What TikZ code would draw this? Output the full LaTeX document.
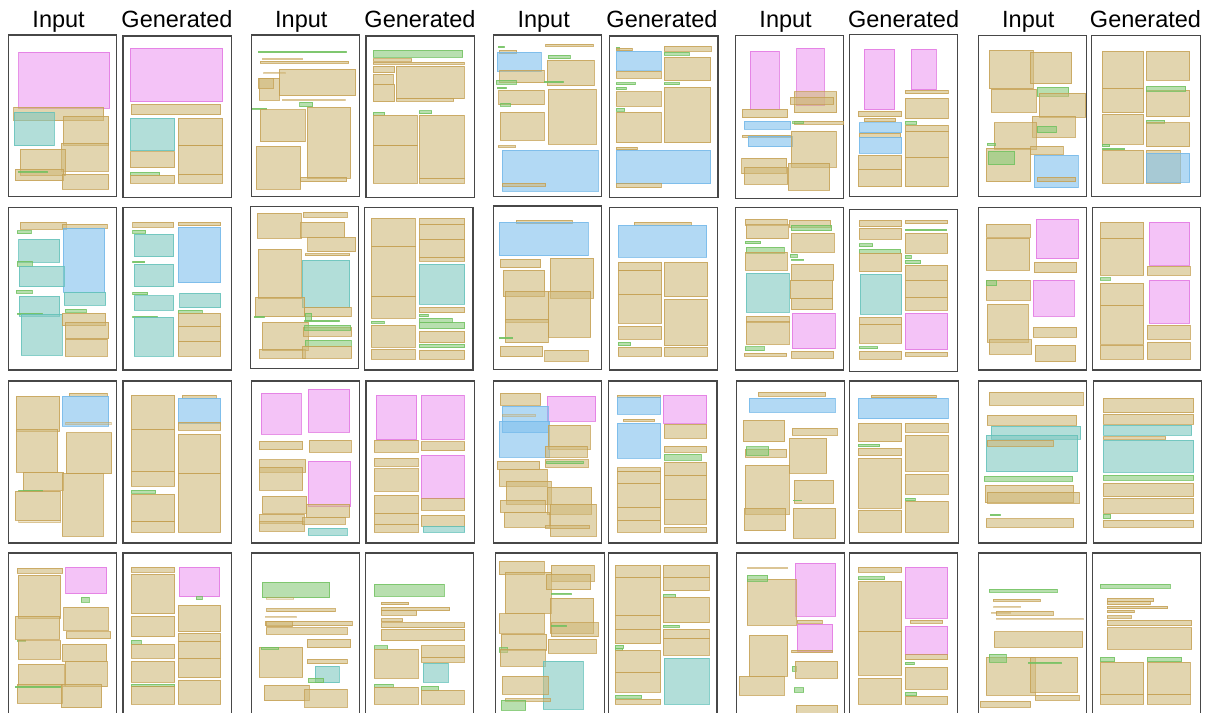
\documentclass[tikz,border=0pt]{standalone}
\usepackage{fontspec}
\setmainfont{Liberation Sans}
\definecolor{tanF}{HTML}{D0B97B}\definecolor{tanD}{HTML}{C49E4E}
\definecolor{pinkF}{HTML}{EE9BF2}\definecolor{pinkD}{HTML}{E070E0}
\definecolor{blueF}{HTML}{80C1EE}\definecolor{blueD}{HTML}{6FB6E8}
\definecolor{tealF}{HTML}{80C8C1}\definecolor{tealD}{HTML}{5EC0B8}
\definecolor{greenF}{HTML}{8ACB7B}\definecolor{greenD}{HTML}{6CBF5A}
\tikzset{
  boxbase/.style={line width=0.6pt, fill opacity=0.6, draw opacity=0.75},
  tanbox/.style={boxbase, fill=tanF, draw=tanD},
  tanlight/.style={line width=0.5pt, fill=tanF, draw=tanD, fill opacity=0.35, draw opacity=0.45},
  pinkbox/.style={boxbase, fill=pinkF, draw=pinkD},
  bluebox/.style={boxbase, fill=blueF, draw=blueD},
  tealbox/.style={boxbase, fill=tealF, draw=tealD},
  greenbox/.style={boxbase, fill=greenF, draw=greenD},
  pageframe/.style={draw=black!72, line width=1.2pt},
  hdr/.style={font=\fontsize{23.5}{28}\selectfont, anchor=base, inner sep=0pt}
}
\newcommand\rT[4]{\draw[tanbox] (#1,#2) rectangle (#3,#4);}
\newcommand\rL[4]{\draw[tanlight] (#1,#2) rectangle (#3,#4);}
\newcommand\rP[4]{\draw[pinkbox] (#1,#2) rectangle (#3,#4);}
\newcommand\rB[4]{\draw[bluebox] (#1,#2) rectangle (#3,#4);}
\newcommand\rC[4]{\draw[tealbox] (#1,#2) rectangle (#3,#4);}
\newcommand\rG[4]{\draw[greenbox] (#1,#2) rectangle (#3,#4);}
\newcommand\fr[4]{\draw[pageframe] (#1,#2) rectangle (#3,#4);}
\newcommand\fo[3]{\draw[pageframe] (#1,505) -- (#1,#2) -- (#3,#2) -- (#3,505);}
\begin{document}
\begin{tikzpicture}[x=1pt,y=-1pt]
\useasboundingbox[fill=white] (0,0) rectangle (1212,712);
% headers
\node[hdr] (in1) at (58.6,27.5) {Input};
\node[hdr] (gen1) at (177,27.5) {Generated};
\node[hdr] (in2) at (301.3,27.5) {Input};
\node[hdr] (gen2) at (420,27.5) {Generated};
\node[hdr] (in3) at (543.7,27.5) {Input};
\node[hdr] (gen3) at (662,27.5) {Generated};
\node[hdr] (in4) at (785.6,27.5) {Input};
\node[hdr] (gen4) at (903.6,27.5) {Generated};
\node[hdr] (in5) at (1028.3,27.5) {Input};
\node[hdr] (gen5) at (1145.5,27.5) {Generated};

% ================= ROW 1 LEFT =================
\begin{scope}[shift={(0,0)},xscale=0.3865,yscale=0.33333]
\fr{22}{105}{302}{590}
\rP{48}{157}{284}{325}
\rT{35}{322}{268}{362}
\rC{37}{337}{141}{437}
\rT{163}{349}{281}{435}
\rT{159}{430}{280}{513}
\rT{52}{448}{168}{527}
\rT{40}{508}{165}{542}
\rG{47}{513}{122}{516}
\rT{160}{522}{281}{568}
\fr{318}{108}{598}{592}
\rP{337}{145}{576}{305}
\rT{340}{313}{571}{344}
\rC{337}{355}{452}{452}
\rT{461}{355}{576}{437}
\rT{461}{437}{576}{522}
\rT{337}{455}{452}{503}
\rG{337}{517}{413}{526}
\rT{337}{526}{452}{550}
\rT{461}{522}{576}{550}
\fr{650}{105}{930}{590}
\rG{668}{153}{895}{158}
\rL{678}{175}{783}{179}
\rT{673}{184}{902}{190}
\rL{682}{216}{737}{220}
\rT{722}{208}{920}{287}
\rT{670}{235}{723}{300}
\rT{668}{234}{706}{265}
\rL{730}{298}{892}{302}
\rG{775}{307}{809}{320}
\rG{652}{324}{690}{327}
\rT{673}{329}{790}{425}
\rT{795}{322}{907}{535}
\rT{663}{439}{778}{567}
\rT{778}{532}{897}{545}
\fr{947}{108}{1227}{592}
\rG{965}{151}{1197}{172}
\rT{965}{176}{1065}{184}
\rT{965}{186}{1200}{193}
\rT{965}{199}{1021}{218}
\rT{965}{222}{1018}{252}
\rT{965}{254}{1021}{305}
\rT{1025}{198}{1200}{296}
\rT{1025}{295}{1174}{303}
\rG{965}{337}{995}{345}
\rG{1085}{332}{1117}{341}
\rT{965}{345}{1079}{437}
\rT{965}{437}{1079}{550}
\rT{1085}{345}{1200}{535}
\rT{1085}{535}{1200}{550}
\fr{1277}{105}{1557}{590}
\rG{1289}{139}{1305}{143}
\rT{1412}{133}{1535}{139}
\rT{1291}{151}{1337}{161}
\rB{1287}{157}{1400}{215}
\rG{1419}{166}{1475}{176}
\rT{1415}{180}{1538}{257}
\rT{1293}{211}{1408}{248}
\rG{1284}{241}{1335}{253}
\rG{1408}{243}{1457}{248}
\rG{1286}{262}{1309}{266}
\rT{1290}{271}{1407}{314}
\rG{1295}{310}{1320}{318}
\rT{1418}{268}{1543}{433}
\rT{1294}{337}{1408}{421}
\rT{1289}{437}{1332}{441}
\rB{1299}{451}{1548}{573}
\rT{1299}{549}{1412}{559}
\end{scope}

% ================= ROW 1 RIGHT =================
\begin{scope}[shift={(606,0)},xscale=0.3865,yscale=0.33333]
\fr{10}{108}{290}{592}
\rG{26}{142}{35}{147}
\rT{26}{145}{67}{152}
\rT{150}{138}{272}{153}
\rB{26}{153}{143}{211}
\rG{151}{157}{215}{166}
\rT{26}{214}{143}{235}
\rT{150}{172}{271}{242}
\rG{26}{248}{75}{254}
\rG{26}{261}{52}{269}
\rG{151}{248}{190}{254}
\rT{26}{275}{143}{318}
\rT{150}{261}{271}{428}
\rG{26}{325}{48}{333}
\rT{26}{337}{143}{428}
\rT{26}{441}{80}{449}
\rB{26}{451}{271}{551}
\rT{26}{551}{143}{563}
\fr{335}{107}{615}{595}
\rP{373}{153}{448}{327}
\rP{493}{145}{564}{315}
\rT{487}{275}{597}{338}
\rT{477}{291}{589}{313}
\rT{353}{327}{470}{353}
\rB{357}{364}{478}{387}
\rT{486}{364}{615}{372}
\rG{483}{365}{510}{369}
\rT{353}{405}{476}{411}
\rB{367}{409}{483}{440}
\rT{479}{393}{595}{502}
\rT{351}{475}{467}{521}
\rT{357}{501}{470}{553}
\rT{471}{490}{579}{571}
\fr{630}{104}{910}{590}
\rP{668}{147}{747}{329}
\rP{789}{147}{855}{269}
\rT{774}{271}{886}{281}
\rT{774}{294}{886}{356}
\rT{653}{333}{765}{350}
\rT{668}{355}{749}{365}
\rG{774}{364}{804}{372}
\rB{655}{368}{765}{398}
\rT{655}{400}{762}{412}
\rB{655}{411}{765}{460}
\rT{774}{375}{886}{394}
\rT{774}{394}{886}{472}
\rT{774}{472}{886}{560}
\rT{653}{465}{765}{508}
\rT{653}{508}{765}{560}
\fr{963}{106}{1243}{590}
\rT{992}{151}{1106}{266}
\rT{1098}{157}{1205}{251}
\rT{996}{267}{1112}{337}
\rG{1116}{262}{1197}{288}
\rT{1121}{280}{1241}{352}
\rT{1103}{349}{1213}{412}
\rT{1004}{368}{1113}{447}
\rG{1116}{379}{1165}{398}
\rG{987}{429}{1006}{435}
\rT{984}{444}{1099}{545}
\rG{989}{453}{1057}{494}
\rT{1099}{438}{1183}{463}
\rB{1108}{466}{1222}{563}
\rT{1116}{531}{1215}{545}
\fr{1257}{106}{1538}{590}
\rT{1284}{154}{1391}{265}
\rT{1397}{154}{1510}{241}
\rT{1284}{265}{1391}{338}
\rT{1397}{271}{1510}{350}
\rG{1398}{259}{1500}{274}
\rT{1284}{342}{1391}{432}
\rG{1398}{360}{1445}{371}
\rT{1397}{368}{1510}{440}
\rG{1284}{432}{1303}{440}
\rG{1284}{444}{1342}{449}
\rT{1284}{451}{1391}{550}
\rT{1397}{451}{1486}{550}
\rB{1397}{460}{1510}{547}
\end{scope}

% ================= ROW 2 LEFT =================
\begin{scope}[shift={(0,200)},xscale=0.3865,yscale=0.33333]
\fr{22}{22}{302}{510}
\rT{52}{67}{172}{88}
\rT{161}{72}{278}{85}
\rG{44}{92}{81}{101}
\rB{164}{85}{271}{276}
\rC{48}{118}{154}{187}
\rG{44}{184}{84}{199}
\rC{50}{199}{166}{260}
\rG{42}{270}{84}{280}
\rC{166}{276}{273}{316}
\rC{50}{288}{154}{349}
\rG{44}{340}{109}{343}
\rC{55}{342}{161}{466}
\rG{168}{328}{222}{337}
\rT{161}{340}{273}{377}
\rT{169}{367}{281}{416}
\rT{168}{418}{278}{469}
\fr{318}{22}{598}{510}
\rT{343}{67}{449}{82}
\rT{461}{67}{571}{77}
\rG{343}{91}{377}{100}
\rC{347}{102}{449}{170}
\rB{461}{82}{571}{248}
\rG{343}{183}{374}{188}
\rC{347}{193}{449}{260}
\rG{343}{276}{382}{284}
\rC{347}{287}{449}{331}
\rC{465}{280}{571}{323}
\rG{461}{330}{523}{341}
\rG{343}{348}{406}{353}
\rC{347}{352}{449}{469}
\rT{461}{340}{571}{378}
\rT{461}{378}{571}{424}
\rT{461}{424}{571}{469}
\fr{648}{20}{928}{505}
\rT{665}{40}{780}{115}
\rT{785}{37}{899}{51}
\rT{778}{66}{892}{112}
\rT{796}{111}{920}{155}
\rT{790}{161}{905}{167}
\rT{668}{147}{780}{296}
\rC{781}{181}{905}{323}
\rT{660}{292}{788}{350}
\rT{788}{322}{909}{350}
\rG{657}{348}{683}{353}
\rG{790}{340}{806}{362}
\rG{788}{360}{877}{365}
\rT{678}{367}{798}{452}
\rT{785}{382}{910}{409}
\rG{788}{376}{907}{390}
\rG{790}{420}{909}{440}
\rT{670}{448}{790}{475}
\rT{783}{438}{910}{475}
\fr{944}{22}{1224}{510}
\rT{960}{54}{1075}{138}
\rT{960}{138}{1075}{290}
\rT{960}{290}{1075}{355}
\rT{1085}{54}{1202}{73}
\rT{1085}{73}{1202}{118}
\rT{1085}{118}{1202}{171}
\rT{1085}{171}{1202}{184}
\rC{1085}{192}{1202}{313}
\rT{1085}{322}{1202}{338}
\rG{1085}{343}{1108}{350}
\rG{1085}{354}{1170}{367}
\rG{1085}{367}{1202}{386}
\rG{960}{363}{993}{369}
\rT{960}{375}{1075}{442}
\rT{1085}{393}{1202}{428}
\rG{1085}{432}{1202}{443}
\rT{960}{447}{1075}{478}
\rT{1085}{451}{1202}{478}
\fr{1277}{18}{1557}{508}
\rT{1335}{61}{1481}{71}
\rB{1292}{67}{1522}{167}
\rT{1294}{178}{1399}{203}
\rT{1423}{175}{1536}{295}
\rT{1301}{210}{1409}{290}
\rT{1307}{273}{1419}{367}
\rT{1419}{274}{1528}{411}
\rT{1307}{357}{1419}{428}
\rG{1291}{412}{1326}{416}
\rT{1294}{439}{1404}{470}
\rT{1409}{450}{1522}{484}
\end{scope}

% ================= ROW 2 RIGHT =================
\begin{scope}[shift={(606,200)},xscale=0.3865,yscale=0.33333]
\fr{8}{22}{288}{510}
\rT{72}{67}{220}{75}
\rB{32}{76}{260}{172}
\rT{32}{187}{144}{212}
\rT{32}{212}{144}{282}
\rT{32}{282}{144}{370}
\rT{150}{187}{263}{290}
\rT{150}{298}{263}{437}
\rT{32}{378}{144}{418}
\rG{32}{427}{64}{437}
\rT{32}{442}{144}{469}
\rT{150}{442}{263}{469}
\fr{335}{22}{615}{510}
\rT{360}{57}{469}{75}
\rT{474}{61}{581}{82}
\rG{479}{76}{584}{92}
\rT{363}{74}{472}{116}
\rT{479}{100}{591}{157}
\rG{360}{123}{400}{131}
\rG{362}{141}{460}{159}
\rT{360}{156}{469}{211}
\rG{476}{163}{494}{172}
\rG{479}{177}{511}{181}
\rT{479}{193}{589}{240}
\rT{476}{240}{586}{296}
\rT{479}{296}{586}{329}
\rC{362}{219}{473}{337}
\rT{362}{348}{473}{368}
\rT{362}{365}{473}{432}
\rP{481}{339}{592}{446}
\rG{360}{440}{409}{452}
\rT{358}{459}{467}{469}
\rT{479}{453}{589}{474}
\fr{630}{28}{910}{514}
\rT{655}{61}{765}{80}
\rT{774}{61}{884}{71}
\rT{655}{84}{765}{118}
\rG{774}{87}{881}{92}
\rT{774}{100}{884}{160}
\rG{655}{131}{690}{140}
\rG{655}{147}{762}{159}
\rT{655}{159}{765}{215}
\rG{774}{166}{789}{176}
\rG{774}{181}{814}{191}
\rT{774}{195}{884}{241}
\rT{774}{241}{884}{292}
\rT{774}{292}{884}{331}
\rC{657}{222}{765}{343}
\rT{655}{352}{765}{373}
\rT{655}{373}{765}{430}
\rP{774}{340}{884}{449}
\rG{655}{440}{703}{446}
\rT{655}{453}{765}{477}
\rT{774}{456}{884}{469}
\fr{964}{22}{1244}{510}
\rT{984}{72}{1098}{112}
\rP{1112}{57}{1223}{176}
\rT{983}{114}{1096}{211}
\rT{1107}{187}{1218}{218}
\rT{983}{241}{1098}{300}
\rG{984}{242}{1011}{257}
\rP{1105}{241}{1212}{349}
\rT{987}{313}{1093}{427}
\rT{991}{419}{1101}{463}
\rT{1105}{382}{1218}{412}
\rT{1110}{435}{1215}{485}
\fr{1258}{22}{1538}{510}
\rT{1278}{67}{1391}{115}
\rT{1278}{115}{1391}{225}
\rP{1406}{67}{1510}{196}
\rT{1400}{199}{1512}{226}
\rG{1278}{233}{1304}{241}
\rT{1278}{249}{1391}{316}
\rT{1278}{316}{1391}{433}
\rP{1406}{241}{1510}{370}
\rT{1400}{376}{1512}{417}
\rT{1278}{435}{1391}{478}
\rT{1400}{427}{1512}{478}
\end{scope}

% ================= ROW 3 LEFT =================
\begin{scope}[shift={(0,372)},xscale=0.3865,yscale=0.33333]
\fr{22}{27}{302}{513}
\rT{41}{72}{154}{178}
\rT{179}{64}{277}{72}
\rB{161}{72}{281}{163}
\rL{170}{150}{287}{156}
\rT{41}{172}{149}{300}
\rT{172}{182}{289}{305}
\rT{60}{300}{165}{355}
\rG{48}{355}{110}{359}
\rT{40}{357}{155}{445}
\rL{48}{445}{157}{452}
\rT{160}{305}{266}{492}
\fr{318}{27}{598}{513}
\rT{340}{69}{452}{172}
\rT{340}{172}{452}{298}
\rT{340}{298}{452}{343}
\rT{471}{69}{560}{79}
\rB{461}{79}{571}{155}
\rT{461}{150}{571}{175}
\rT{461}{186}{571}{303}
\rT{461}{303}{571}{481}
\rG{340}{354}{403}{363}
\rT{340}{367}{452}{449}
\rT{340}{449}{452}{481}
\fr{650}{27}{930}{513}
\rP{676}{64}{780}{187}
\rP{797}{51}{905}{181}
\rT{670}{208}{783}{233}
\rT{800}{204}{909}{241}
\rT{670}{263}{791}{301}
\rT{670}{286}{783}{355}
\rP{797}{267}{907}{404}
\rT{679}{373}{793}{423}
\rT{792}{397}{905}{436}
\rT{670}{426}{787}{453}
\rT{670}{449}{787}{478}
\rT{783}{437}{893}{457}
\rC{798}{468}{899}{490}
\fr{947}{27}{1227}{513}
\rP{973}{69}{1078}{203}
\rP{1089}{69}{1200}{203}
\rT{968}{205}{1081}{241}
\rT{1089}{209}{1202}{236}
\rT{968}{258}{1081}{283}
\rT{968}{290}{1081}{357}
\rP{1089}{250}{1200}{380}
\rT{968}{369}{1081}{423}
\rT{968}{423}{1081}{457}
\rT{968}{457}{1081}{481}
\rT{1089}{380}{1202}{415}
\rT{1089}{430}{1202}{462}
\rC{1095}{462}{1202}{481}
\fr{1277}{27}{1557}{513}
\rT{1294}{63}{1399}{99}
\rP{1416}{72}{1541}{148}
\rB{1300}{102}{1419}{182}
\rB{1292}{148}{1422}{256}
\rL{1300}{128}{1384}{132}
\rT{1419}{160}{1526}{232}
\rT{1411}{223}{1519}{256}
\rT{1411}{263}{1521}{286}
\rG{1414}{269}{1508}{275}
\rT{1286}{268}{1396}{291}
\rT{1292}{292}{1416}{343}
\rT{1309}{327}{1426}{397}
\rT{1416}{346}{1531}{427}
\rT{1294}{384}{1411}{420}
\rT{1423}{397}{1543}{492}
\rT{1304}{420}{1421}{466}
\rT{1411}{461}{1524}{469}
\end{scope}

% ================= ROW 3 RIGHT =================
\begin{scope}[shift={(606,372)},xscale=0.3865,yscale=0.33333]
\fr{7}{27}{287}{513}
\rT{29}{70}{141}{77}
\rB{29}{77}{141}{126}
\rP{148}{70}{260}{153}
\rT{45}{141}{126}{148}
\rB{29}{153}{141}{259}
\rT{150}{156}{260}{199}
\rT{150}{222}{260}{241}
\rG{150}{246}{247}{264}
\rT{29}{287}{141}{299}
\rT{29}{299}{141}{334}
\rT{29}{334}{141}{405}
\rT{29}{405}{141}{445}
\rT{29}{445}{141}{481}
\rT{150}{271}{260}{310}
\rT{150}{310}{260}{382}
\rT{150}{382}{260}{457}
\rT{150}{465}{260}{481}
\fr{337}{27}{617}{513}
\rT{393}{60}{568}{72}
\rB{370}{78}{592}{121}
\rT{354}{145}{462}{209}
\rT{481}{168}{598}{190}
\rT{474}{198}{571}{304}
\rT{360}{232}{467}{256}
\rG{362}{224}{421}{250}
\rT{360}{279}{473}{427}
\rT{486}{324}{589}{393}
\rG{484}{384}{506}{386}
\rT{357}{408}{465}{476}
\rT{484}{408}{594}{499}
\fr{631}{27}{911}{513}
\rT{686}{69}{855}{77}
\rB{652}{78}{886}{140}
\rT{652}{153}{765}{209}
\rT{774}{153}{886}{180}
\rG{652}{216}{708}{224}
\rT{652}{228}{765}{251}
\rT{774}{189}{886}{298}
\rT{652}{259}{765}{408}
\rT{774}{306}{886}{366}
\rG{774}{378}{799}{386}
\rT{652}{414}{765}{481}
\rT{774}{388}{886}{481}
\fr{964}{27}{1244}{513}
\rT{992}{60}{1235}{99}
\rT{987}{129}{1218}{160}
\rC{996}{162}{1228}{202}
\rC{983}{189}{1220}{299}
\rT{987}{204}{1157}{222}
\rG{978}{313}{1207}{328}
\rT{981}{340}{1210}{392}
\rT{987}{360}{1224}{394}
\rG{994}{426}{1020}{431}
\rT{983}{440}{1210}{465}
\fr{1261}{27}{1541}{513}
\rT{1286}{78}{1520}{122}
\rT{1286}{126}{1520}{157}
\rC{1286}{160}{1515}{190}
\rT{1286}{194}{1448}{202}
\rC{1286}{204}{1520}{301}
\rG{1286}{310}{1520}{325}
\rT{1286}{333}{1520}{374}
\rT{1286}{378}{1520}{423}
\rG{1286}{427}{1306}{440}
\rT{1286}{444}{1520}{466}
\end{scope}

% ================= ROW 4 LEFT =================
\begin{scope}[shift={(0,545)},xscale=0.3865,yscale=0.33333]
\fo{22}{24}{302}
\rT{44}{69}{162}{85}
\rP{170}{67}{276}{146}
\rG{210}{156}{230}{172}
\rT{47}{90}{157}{220}
\rT{40}{213}{154}{282}
\rT{165}{186}{280}{256}
\rT{171}{260}{286}{281}
\rG{44}{285}{66}{289}
\rT{47}{287}{157}{343}
\rT{161}{297}{276}{349}
\rT{47}{357}{166}{423}
\rT{168}{350}{278}{425}
\rT{44}{418}{162}{474}
\rG{40}{423}{156}{428}
\rT{158}{418}{263}{488}
\fo{318}{24}{598}
\rT{340}{67}{452}{81}
\rP{463}{67}{568}{155}
\rG{507}{155}{523}{164}
\rT{340}{88}{452}{206}
\rT{340}{214}{452}{275}
\rT{461}{180}{571}{260}
\rT{461}{264}{571}{289}
\rT{461}{289}{571}{340}
\rG{340}{286}{365}{297}
\rT{340}{297}{452}{340}
\rT{340}{348}{452}{412}
\rT{461}{340}{571}{398}
\rG{340}{417}{452}{425}
\rT{340}{425}{452}{478}
\rT{461}{405}{571}{478}
\fo{651}{24}{931}
\rG{678}{112}{853}{158}
\rL{688}{158}{760}{162}
\rT{690}{191}{868}{200}
\rL{686}{213}{767}{216}
\rT{686}{229}{912}{242}
\rT{690}{229}{755}{245}
\rT{688}{248}{899}{268}
\rT{795}{283}{907}{308}
\rT{670}{306}{783}{397}
\rG{675}{306}{721}{312}
\rT{795}{343}{899}{356}
\rC{816}{364}{878}{413}
\rG{797}{399}{837}{413}
\rT{683}{420}{799}{467}
\rT{788}{432}{899}{487}
\fo{946}{24}{1226}
\rG{968}{118}{1150}{154}
\rT{986}{171}{1057}{179}
\rT{986}{186}{1163}{197}
\rT{986}{197}{1078}{211}
\rT{986}{221}{1042}{230}
\rT{986}{233}{1202}{248}
\rT{986}{252}{1202}{287}
\rG{968}{302}{1003}{312}
\rT{968}{312}{1081}{400}
\rT{1089}{302}{1200}{337}
\rT{1089}{337}{1200}{352}
\rC{1094}{355}{1159}{412}
\rG{968}{417}{1018}{426}
\rG{1089}{424}{1135}{435}
\rT{968}{426}{1081}{478}
\rT{1089}{436}{1200}{478}
\fo{1283}{24}{1563}
\rT{1292}{48}{1407}{89}
\rT{1426}{60}{1538}{108}
\rT{1307}{81}{1426}{205}
\rT{1413}{87}{1528}{134}
\rG{1426}{144}{1478}{147}
\rT{1424}{160}{1536}{265}
\rT{1292}{206}{1407}{265}
\rT{1426}{233}{1548}{275}
\rG{1426}{240}{1465}{244}
\rT{1297}{267}{1414}{316}
\rT{1418}{283}{1543}{325}
\rG{1292}{308}{1312}{322}
\rT{1294}{313}{1411}{363}
\rC{1406}{348}{1508}{493}
\rT{1299}{393}{1419}{447}
\rT{1307}{461}{1424}{469}
\rG{1297}{466}{1360}{496}
\end{scope}

% ================= ROW 4 RIGHT =================
\begin{scope}[shift={(606,545)},xscale=0.3865,yscale=0.33333]
\fo{7}{24}{287}
\rT{24}{61}{141}{97}
\rT{24}{97}{141}{211}
\rT{24}{211}{141}{252}
\rT{24}{252}{141}{296}
\rT{147}{61}{267}{97}
\rT{147}{97}{267}{137}
\rG{147}{148}{180}{156}
\rT{147}{156}{267}{233}
\rG{147}{240}{190}{246}
\rT{147}{252}{267}{280}
\rT{147}{280}{267}{331}
\rG{24}{301}{46}{310}
\rG{24}{310}{43}{317}
\rT{24}{316}{141}{382}
\rT{24}{382}{141}{442}
\rC{150}{340}{267}{478}
\rG{24}{451}{92}{460}
\rT{24}{462}{141}{478}
\fo{338}{24}{618}
\rL{365}{67}{470}{71}
\rP{489}{54}{594}{214}
\rT{365}{102}{492}{241}
\rG{365}{91}{418}{109}
\rT{494}{226}{559}{234}
\rP{494}{238}{586}{318}
\rT{480}{316}{586}{323}
\rT{370}{270}{470}{394}
\rG{481}{363}{492}{379}
\rT{489}{348}{599}{400}
\rT{345}{393}{460}{451}
\rG{486}{428}{511}{442}
\rT{492}{481}{599}{505}
\fo{630}{24}{910}
\rT{652}{67}{765}{81}
\rG{652}{95}{721}{104}
\rT{652}{108}{765}{260}
\rT{652}{260}{765}{390}
\rP{774}{67}{884}{220}
\rT{787}{225}{871}{234}
\rP{774}{243}{884}{329}
\rT{774}{329}{884}{344}
\rG{774}{352}{797}{359}
\rT{774}{367}{884}{432}
\rG{774}{441}{804}{452}
\rT{774}{453}{884}{478}
\rT{652}{400}{765}{478}
\fo{964}{24}{1244}
\rG{991}{132}{1167}{142}
\rT{1001}{163}{1123}{169}
\rL{1003}{183}{1073}{186}
\rL{997}{201}{1047}{204}
\rT{1010}{198}{1157}{211}
\rL{1010}{219}{1235}{223}
\rT{1005}{260}{1233}{307}
\rT{984}{336}{1110}{451}
\rT{1098}{336}{1220}{441}
\rG{991}{328}{1035}{352}
\rG{1093}{351}{1177}{354}
\rT{1110}{451}{1225}{466}
\rT{968}{468}{1099}{487}
\fo{1258}{24}{1538}
\rG{1278}{117}{1459}{130}
\rT{1296}{160}{1417}{170}
\rT{1296}{170}{1407}{179}
\rT{1296}{183}{1453}{191}
\rT{1296}{195}{1366}{203}
\rT{1296}{212}{1359}{220}
\rT{1296}{226}{1515}{242}
\rT{1296}{248}{1515}{313}
\rG{1278}{337}{1316}{350}
\rG{1400}{337}{1489}{350}
\rT{1278}{351}{1391}{448}
\rT{1400}{351}{1512}{448}
\rT{1278}{448}{1391}{478}
\rT{1400}{448}{1512}{478}
\end{scope}
\end{tikzpicture}
\end{document}
